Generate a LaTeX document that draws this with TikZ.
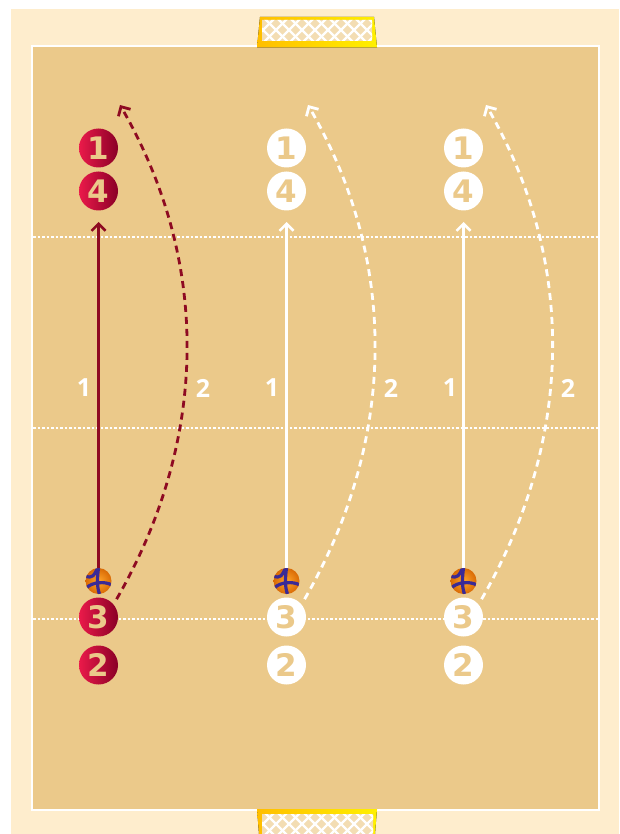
\documentclass[tikz,border=0pt]{standalone}
\usepackage{fontspec}
\setmainfont{Open Sans}
\newfontfamily\numfont{DejaVu Sans}
\usetikzlibrary{arrows.meta,positioning,calc}
\definecolor{courtfill}{HTML}{EBC98A}
\definecolor{sidefill}{HTML}{FEEDCD}
\definecolor{netfill}{HTML}{F3DDB3}
\definecolor{redlight}{HTML}{EA1A4A}
\definecolor{reddark}{HTML}{8A0026}
\definecolor{linered}{HTML}{8E0A22}
\definecolor{ballblue}{HTML}{3A2A96}
\definecolor{ballin}{HTML}{FFA52A}
\definecolor{ballout}{HTML}{D96A05}
\definecolor{goalleft}{HTML}{FFBE00}
\definecolor{goalright}{HTML}{FFF000}

\begin{document}
\begin{tikzpicture}[
  x=1pt, y=-1pt,
  redplayer/.style={circle, minimum size=39pt, inner sep=0pt,
                    left color=redlight, middle color=redlight, right color=reddark,
                    text=courtfill, font=\numfont\bfseries\fontsize{31}{31}\selectfont},
  whiteplayer/.style={circle, minimum size=39pt, inner sep=0pt, fill=white,
                    text=courtfill, font=\numfont\bfseries\fontsize{31}{31}\selectfont},
  ball/.style={circle, minimum size=26pt, inner sep=0pt,
               inner color=ballin, outer color=ballout,
               path picture={
                 \draw[ballblue, line width=3.2pt]
                   ($(path picture bounding box.center)+(-13,-5)$)
                     .. controls +(7,3) and +(-3,7) .. ($(path picture bounding box.center)+(-1,-13)$)
                   ($(path picture bounding box.center)+(-12,7)$)
                     .. controls +(5,-6) and +(-6,-4) .. ($(path picture bounding box.center)+(13,4)$)
                   ($(path picture bounding box.center)+(1,13)$)
                     .. controls +(-3,-7) and +(-1,7) .. ($(path picture bounding box.center)+(0,-13)$);
               }},
  run/.style={-{Straight Barb[length=7pt,width=14pt]}, line width=2.5pt},
  pass/.style={-{Straight Barb[length=7pt,width=14pt]}, line width=2.8pt, dash pattern=on 7pt off 5pt},
  steplabel/.style={text=white, font=\bfseries\fontsize{25}{25}\selectfont},
  midline/.style={white, line width=1.3pt, dash pattern=on 2.5pt off 2pt},
  goalframe/.style={left color=goalleft, right color=goalright}
]
  \useasboundingbox (0,0) rectangle (619,834);
  \clip (0,0) rectangle (619,834);

  % Court
  \fill[sidefill] (11,9) rectangle (619,834);
  \draw[white, line width=2.5pt, fill=courtfill] (32,46) rectangle (599,810);
  \draw[midline] (33,237) -- (598,237);
  \draw[midline] (33,428) -- (598,428);
  \draw[midline] (33,619) -- (598,619);

  % Goals
  \fill[goalframe] (260,17) -- (374,17) -- (377,47.5) -- (257,47.5) -- cycle;
  \fill[goalframe] (257,809) -- (377,809) -- (375,834) -- (259,834) -- cycle;
  \begin{scope}
    \clip (262,20) rectangle (372,41) (262,814) rectangle (373,834);
    \fill[netfill] (250,15) rectangle (385,834);
    \foreach \k in {0,1,...,16} {
      \draw[white, line width=2.2pt] ({230+13*\k},10) -- ({270+13*\k},50);
      \draw[white, line width=2.2pt] ({230+13*\k},50) -- ({270+13*\k},10);
      \draw[white, line width=2.2pt] ({230+13*\k},804) -- ({270+13*\k},844);
      \draw[white, line width=2.2pt] ({230+13*\k},844) -- ({270+13*\k},804);
    }
  \end{scope}

  % Players, first group
  \node[redplayer] (a1) at (98.5,148) {1};
  \node[redplayer] (a4) at (98.5,191) {4};
  \node[redplayer] (a3) at (98.5,617) {3};
  \node[redplayer] (a2) at (98.5,665) {2};
  \node[ball] (aball) at (98.5,581) {};
  \coordinate (arun) at (98.5,222);
  \coordinate (apass) at (120,105);

  % Players, second group
  \node[whiteplayer] (b1) at (286.5,148) {1};
  \node[whiteplayer] (b4) at (286.5,191) {4};
  \node[whiteplayer] (b3) at (286.5,617) {3};
  \node[whiteplayer] (b2) at (286.5,665) {2};
  \node[ball] (bball) at (286.5,581) {};
  \coordinate (brun) at (286.5,222);
  \coordinate (bpass) at (308,105);

  % Players, third group
  \node[whiteplayer] (c1) at (463.5,148) {1};
  \node[whiteplayer] (c4) at (463.5,191) {4};
  \node[whiteplayer] (c3) at (463.5,617) {3};
  \node[whiteplayer] (c2) at (463.5,665) {2};
  \node[ball] (cball) at (463.5,581) {};
  \coordinate (crun) at (463.5,222);
  \coordinate (cpass) at (486,105);

  % Arrows
  \draw[run, linered] (aball) -- (arun);
  \draw[run, white] (bball) -- (brun);
  \draw[run, white] (cball) -- (crun);
  \draw[pass, linered, shorten <=6pt] (a3.40) to[out=60,in=-60,looseness=0.95] (apass);
  \draw[pass, white, shorten <=6pt] (b3.40) to[out=60,in=-60,looseness=0.95] (bpass);
  \draw[pass, white, shorten <=6pt] (c3.40) to[out=60,in=-60,looseness=0.95] (cpass);

  % Labels
  \node[steplabel] (al1) at (84,388) {1};
  \node[steplabel] (al2) at (203,388) {2};
  \node[steplabel] (bl1) at (272,388) {1};
  \node[steplabel] (bl2) at (391,388) {2};
  \node[steplabel] (cl1) at (450,388) {1};
  \node[steplabel] (cl2) at (568,388) {2};
\end{tikzpicture}
\end{document}
